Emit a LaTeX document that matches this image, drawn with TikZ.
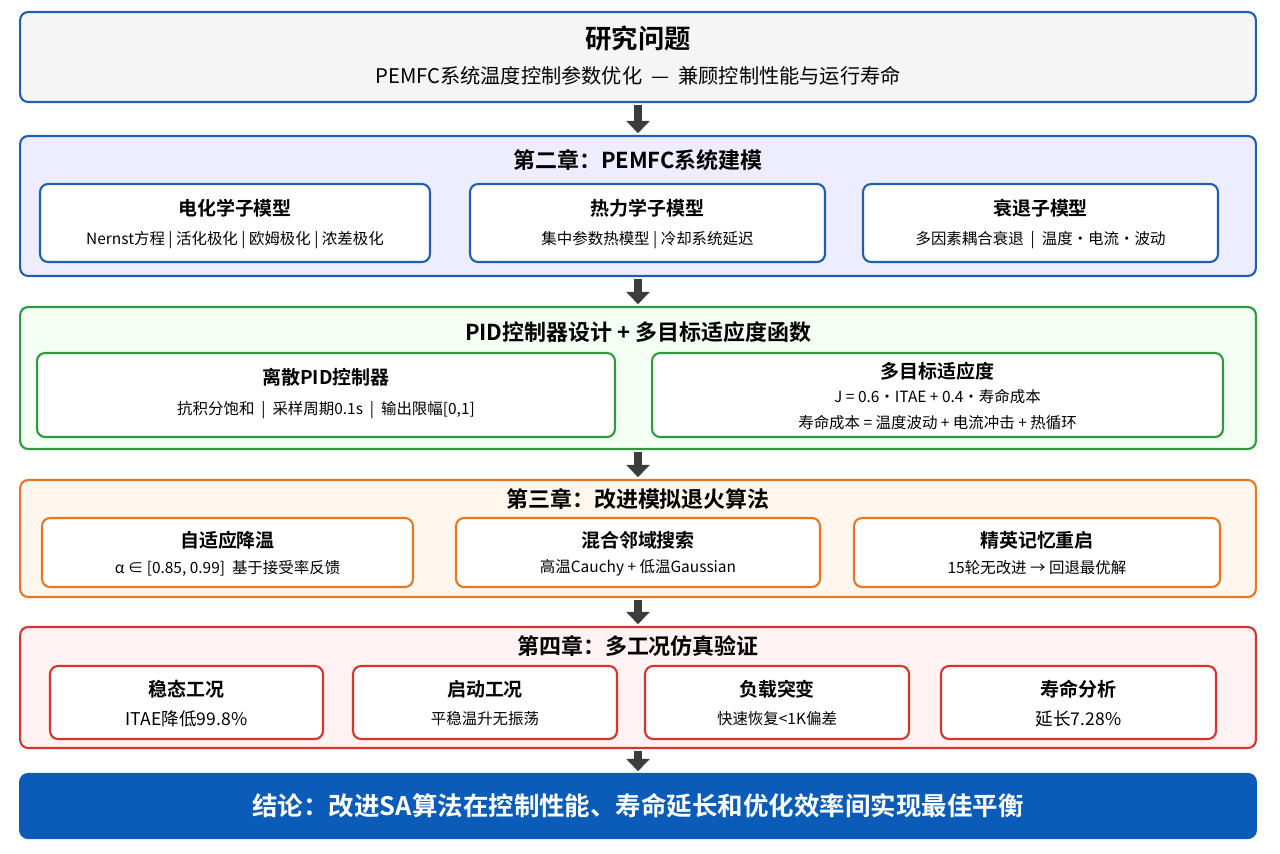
\documentclass[tikz,border=0pt]{standalone}
\usepackage{fontspec}
\setmainfont{Noto Sans CJK SC}[BoldFont={Noto Sans CJK SC Bold}]
\usetikzlibrary{arrows.meta}
\definecolor{bblue}{HTML}{1F5FB0}
\definecolor{bgreen}{HTML}{2E9A3E}
\definecolor{borange}{HTML}{E87722}
\definecolor{bred}{HTML}{D9342B}
\definecolor{cblue}{HTML}{0B5CB8}
\definecolor{arrowgray}{HTML}{3C3C3C}
\tikzset{
  frame/.style={draw=#1, line width=1.2pt, rounded corners=0.16cm, inner sep=0pt},
  sub/.style={frame=#1, fill=white},
  bigtitle/.style={font=\bfseries\fontsize{15}{18}\selectfont},
  chaptitle/.style={font=\bfseries\fontsize{12.5}{15}\selectfont},
  subtitle/.style={font=\bfseries\fontsize{10.8}{13}\selectfont},
  subtext/.style={font=\fontsize{8.8}{11}\selectfont},
  flow/.style={-{Triangle[length=7pt,width=13pt]}, line width=5pt, draw=arrowgray, shorten <=1pt, shorten >=1pt}
}
\begin{document}
\begin{tikzpicture}[x=0.02cm,y=-0.02cm]
  \useasboundingbox[fill=white] (0,0) rectangle (1280,853);
  % research question
  \node[frame=bblue, fill=gray!8, minimum width=24.72cm, minimum height=1.8cm] (question) at (638,57) {};
  \node[bigtitle] at (638,38) {研究问题};
  \node[font=\fontsize{11.5}{14}\selectfont] at (638,76) {PEMFC系统温度控制参数优化\ \ —\ \ 兼顾控制性能与运行寿命};
  % chapter 2
  \node[frame=bblue, fill=blue!7, minimum width=24.72cm, minimum height=2.8cm] (model) at (638,206) {};
  \node[chaptitle] at (638,160) {第二章：PEMFC系统建模};
  \node[sub=bblue, minimum width=7.8cm, minimum height=1.56cm] (echem) at (235,223) {};
  \node[sub=bblue, minimum width=7.1cm, minimum height=1.56cm] (therm) at (647.5,223) {};
  \node[sub=bblue, minimum width=7.1cm, minimum height=1.56cm] (degr) at (1040.5,223) {};
  \node[subtitle] at (235,208) {电化学子模型};
  \node[subtext] at (235,240) {Nernst方程 | 活化极化 | 欧姆极化 | 浓差极化};
  \node[subtitle] at (647.5,208) {热力学子模型};
  \node[subtext] at (647.5,240) {集中参数热模型 | 冷却系统延迟};
  \node[subtitle] at (1040.5,208) {衰退子模型};
  \node[subtext] at (1040.5,240) {多因素耦合衰退\ \ |\ \ 温度·电流·波动};
  % PID + fitness
  \node[frame=bgreen, fill=green!5, minimum width=24.72cm, minimum height=2.84cm] (pid) at (638,378) {};
  \node[chaptitle] at (638,332) {PID控制器设计 + 多目标适应度函数};
  \node[sub=bgreen, minimum width=11.56cm, minimum height=1.68cm] (dpid) at (326,395) {};
  \node[sub=bgreen, minimum width=11.42cm, minimum height=1.68cm] (fit) at (937.5,395) {};
  \node[subtitle] at (326,377) {离散PID控制器};
  \node[subtext] at (326,410) {抗积分饱和\ \ |\ \ 采样周期0.1s\ \ |\ \ 输出限幅[0,1]};
  \node[subtitle] at (937.5,371) {多目标适应度};
  \node[subtext] at (937.5,397) {J = 0.6·ITAE + 0.4·寿命成本};
  \node[subtext] at (937.5,423) {寿命成本 = 温度波动 + 电流冲击 + 热循环};
  % chapter 3
  \node[frame=borange, fill=orange!7, minimum width=24.72cm, minimum height=2.34cm] (sa) at (638,538.5) {};
  \node[chaptitle] at (638,499) {第三章：改进模拟退火算法};
  \node[sub=borange, minimum width=7.42cm, minimum height=1.38cm] (cool) at (227.5,552.5) {};
  \node[sub=borange, minimum width=7.28cm, minimum height=1.38cm] (mix) at (638,552.5) {};
  \node[sub=borange, minimum width=7.32cm, minimum height=1.38cm] (elite) at (1037,552.5) {};
  \node[subtitle] at (227.5,540) {自适应降温};
  \node[subtext] at (227.5,568) {α ∈ [0.85, 0.99]\ \ 基于接受率反馈};
  \node[subtitle] at (638,540) {混合邻域搜索};
  \node[subtext] at (638,568) {高温Cauchy + 低温Gaussian};
  \node[subtitle] at (1037,540) {精英记忆重启};
  \node[subtext] at (1037,568) {15轮无改进 → 回退最优解};
  % chapter 4
  \node[frame=bred, fill=red!5, minimum width=24.72cm, minimum height=2.42cm] (sim) at (638,687.5) {};
  \node[chaptitle] at (638,646) {第四章：多工况仿真验证};
  \node[sub=bred, minimum width=5.46cm, minimum height=1.46cm] (steady) at (186.5,702.5) {};
  \node[sub=bred, minimum width=5.28cm, minimum height=1.46cm] (start) at (485,702.5) {};
  \node[sub=bred, minimum width=5.28cm, minimum height=1.46cm] (load) at (777,702.5) {};
  \node[sub=bred, minimum width=5.5cm, minimum height=1.46cm] (life) at (1078.5,702.5) {};
  \node[subtitle] at (186.5,689) {稳态工况};
  \node[subtext, font=\fontsize{10}{12}\selectfont] at (186.5,719) {ITAE降低99.8\%};
  \node[subtitle] at (485,689) {启动工况};
  \node[subtext] at (485,719) {平稳温升无振荡};
  \node[subtitle] at (777,689) {负载突变};
  \node[subtext] at (777,719) {快速恢复<1K偏差};
  \node[subtitle] at (1078.5,689) {寿命分析};
  \node[subtext, font=\fontsize{10}{12}\selectfont] at (1078.5,719) {延长7.28\%};
  % conclusion
  \node[frame=cblue, fill=cblue, minimum width=24.72cm, minimum height=1.28cm,
        text=white, font=\bfseries\fontsize{14.5}{17}\selectfont] (concl) at (638,806)
        {结论：改进SA算法在控制性能、寿命延长和优化效率间实现最佳平衡};
  % flow arrows
  \draw[flow] (question.south) -- (model.north);
  \draw[flow] (model.south) -- (pid.north);
  \draw[flow] (pid.south) -- (sa.north);
  \draw[flow] (sa.south) -- (sim.north);
  \draw[flow] (sim.south) -- (concl.north);
\end{tikzpicture}
\end{document}
